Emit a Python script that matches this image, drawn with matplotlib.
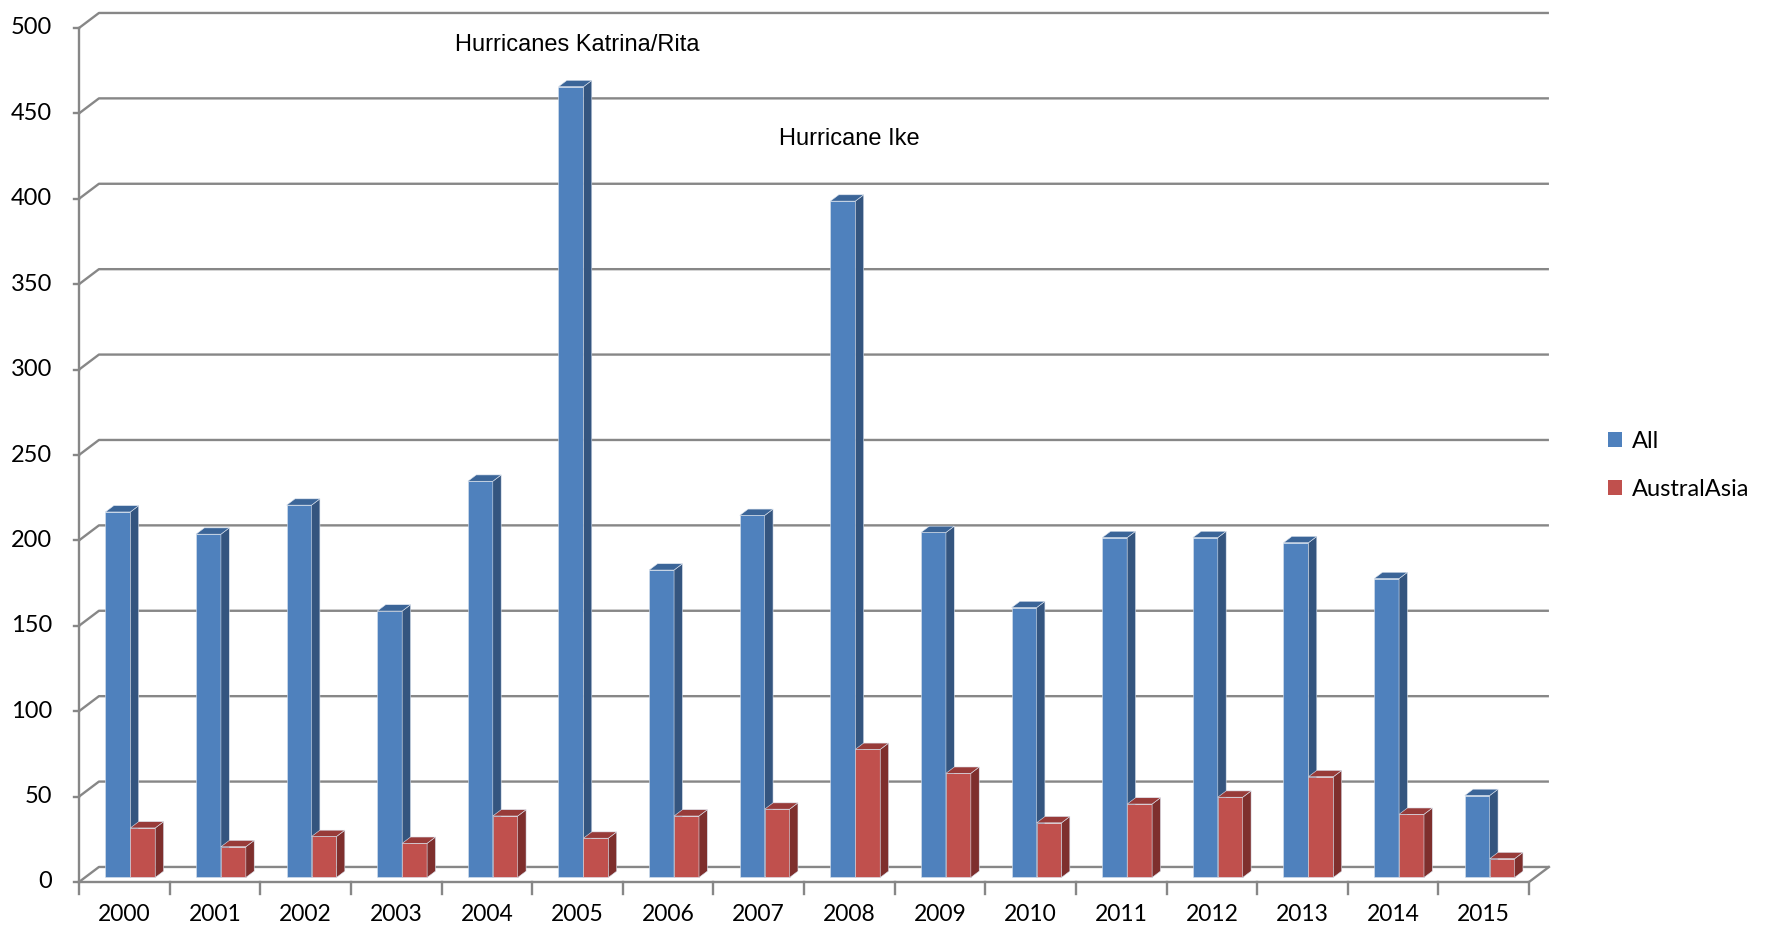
"""3D-style column chart: catastrophe losses, All vs AustralAsia"""

import matplotlib.pyplot as plt
from matplotlib.patches import Polygon, Patch

YEARS = [str(y) for y in range(2000, 2016)]
ALL = [214, 201, 218, 156, 232, 463, 180, 212, 396, 202, 158, 199, 199, 196, 175, 48]
AUSTRALASIA = [29, 18, 24, 20, 36, 23, 36, 40, 75, 61, 32, 43, 47, 59, 37, 11]
Y_TICKS = list(range(0, 501, 50))
NOTES = [("Hurricanes Katrina/Rita", 5, 490), ("Hurricane Ike", 8, 435)]

BLUE = ("#4F81BD", "#34557F", "#3B6598")  # front, side, top
RED = ("#C0504D", "#7E2F2D", "#983B39")
GRID = "#878787"

# depth of the "floor" in data units
DX, DY = 0.22, 8.8
BAR_W = 0.275
BAR_D = 0.42  # bar depth as fraction of floor depth
BAR_Z = 0.3  # where the bar front sits in the floor depth

fig = plt.figure(figsize=(17.69, 9.31), dpi=100)
ax = fig.add_axes([79 / 1769, 49 / 931, 1450 / 1769, 854 / 931])
ax.set_xlim(-0.5, len(YEARS) - 0.5)
ax.set_ylim(0, 500)
ax.axis("off")

x0, x1 = -0.5, len(YEARS) - 0.5

# back wall gridlines with their slanted left ends
for v in Y_TICKS:
    ax.plot([x0, x0 + DX, x1 + DX], [v, v + DY, v + DY], color=GRID, lw=1.7,
            clip_on=False, zorder=1, solid_capstyle="butt")
    ax.plot([x0 - 0.05, x0], [v, v], color=GRID, lw=1.7, clip_on=False, zorder=1)
    ax.text(x0 - 0.3, v, str(v), ha="right", va="center", fontsize=17,
            family="Lato", clip_on=False)

# front axes: vertical, floor and right edge of floor
ax.plot([x0, x0], [0, 500], color=GRID, lw=1.7, clip_on=False, zorder=1)
ax.plot([x0, x1, x1 + DX], [0, 0, DY], color=GRID, lw=1.7, clip_on=False, zorder=1)
for i in range(len(YEARS) + 1):
    ax.plot([x0 + i, x0 + i], [0, -7], color=GRID, lw=1.7, clip_on=False, zorder=1)
for i, yr in enumerate(YEARS):
    ax.text(i, -19, yr, ha="center", va="center", fontsize=16.5, family="Lato",
            clip_on=False)


def box(x, v, colors):
    """draw one column with its side and top faces"""
    bx = x + BAR_Z * DX
    by = BAR_Z * DY
    ddx, ddy = BAR_D * DX, BAR_D * DY
    front = [(bx, by), (bx + BAR_W, by), (bx + BAR_W, by + v), (bx, by + v)]
    side = [(bx + BAR_W, by), (bx + BAR_W + ddx, by + ddy),
            (bx + BAR_W + ddx, by + v + ddy), (bx + BAR_W, by + v)]
    top = [(bx, by + v), (bx + BAR_W, by + v),
           (bx + BAR_W + ddx, by + v + ddy), (bx + ddx, by + v + ddy)]
    for pts, c in zip((front, side, top), colors):
        ax.add_patch(Polygon(pts, closed=True, facecolor=c, edgecolor="#dbe3ee",
                             lw=0.4, zorder=3, clip_on=False))


for i in range(len(YEARS)):
    box(i - BAR_W, ALL[i], BLUE)
    box(i, AUSTRALASIA[i], RED)

for txt, xi, yv in NOTES:
    ax.text(xi, yv, txt, ha="center", va="center", fontsize=17,
            family="Liberation Sans")

handles = [Patch(facecolor=BLUE[0], label="All"),
           Patch(facecolor=RED[0], label="AustralAsia")]
fig.legend(handles=handles, loc="center left", bbox_to_anchor=(0.897, 0.5),
           frameon=False, handlelength=0.6, handleheight=0.6, handletextpad=0.4,
           labelspacing=1.15, prop={"family": "Lato", "size": 17})

fig.savefig("out.png", dpi=100)
